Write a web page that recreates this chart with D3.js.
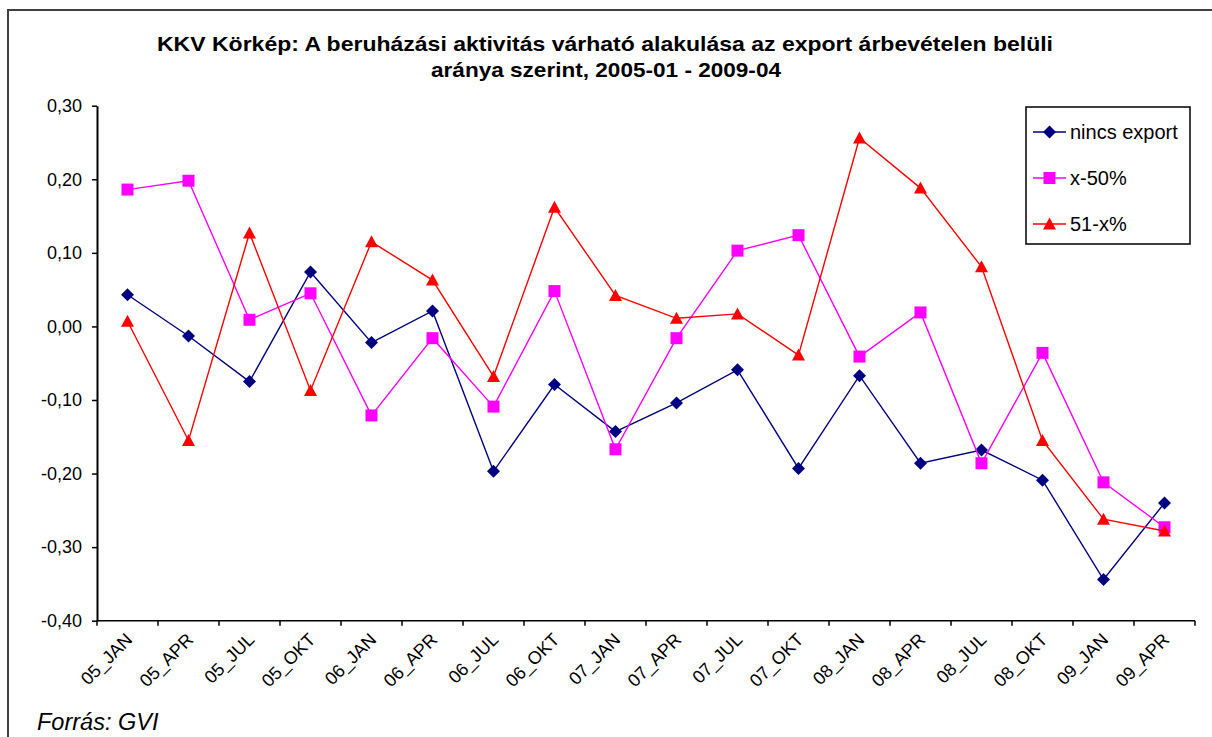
<!DOCTYPE html>
<html lang="hu">
<head>
<meta charset="utf-8">
<title>KKV Körkép</title>
<script src="https://d3js.org/d3.v7.min.js"></script>
<style>
    body { margin: 0; padding: 0; background: white; overflow: hidden; }
    svg { display: block; font-family: Arial, "Liberation Sans", sans-serif; }
</style>
</head>
<body>
<div id="chart"></div>
<script>
    // data
    const categories = ["05_JAN", "05_APR", "05_JUL", "05_OKT", "06_JAN", "06_APR", "06_JUL", "06_OKT",
        "07_JAN", "07_APR", "07_JUL", "07_OKT", "08_JAN", "08_APR", "08_JUL", "08_OKT", "09_JAN", "09_APR"];
    const ninsExport = [0.043, -0.013, -0.075, 0.074, -0.022, 0.021, -0.197, -0.079,
        -0.143, -0.104, -0.059, -0.193, -0.067, -0.186, -0.168, -0.209, -0.344, -0.240];
    const x50 = [0.186, 0.198, 0.009, 0.045, -0.121, -0.016, -0.109, 0.048,
        -0.167, -0.016, 0.103, 0.124, -0.041, 0.019, -0.186, -0.036, -0.212, -0.273];
    const x51 = [0.007, -0.155, 0.127, -0.087, 0.115, 0.063, -0.068, 0.162,
        0.042, 0.011, 0.017, -0.039, 0.256, 0.188, 0.081, -0.155, -0.262, -0.278];
    const yTicks = [-0.4, -0.3, -0.2, -0.1, 0, 0.1, 0.2, 0.3];
    const seriesNames = ["nincs export", "x-50%", "51-x%"];

    const series = [
        { name: seriesNames[0], values: ninsExport, color: "#000080", marker: "diamond" },
        { name: seriesNames[1], values: x50, color: "#FF00FF", marker: "square" },
        { name: seriesNames[2], values: x51, color: "#FF0000", marker: "triangle" }
    ];

    const w = 1212, h = 737;
    const plotLeft = 97, plotRight = 1195, plotTop = 105.7, plotBottom = 620.7;

    const svg = d3.select("#chart").append("svg")
        .attr("width", w)
        .attr("height", h);

    // outer frame
    svg.append("rect")
        .attr("x", 8).attr("y", 10)
        .attr("width", w + 20).attr("height", h + 20)
        .attr("fill", "white")
        .attr("stroke", "#404040")
        .attr("stroke-width", 2);

    // title
    svg.append("text")
        .attr("x", 605).attr("y", 51)
        .attr("text-anchor", "middle")
        .attr("font-weight", "bold")
        .attr("font-size", 21)
        .attr("textLength", 896)
        .attr("lengthAdjust", "spacingAndGlyphs")
        .text("KKV Körkép: A beruházási aktivitás várható alakulása az export árbevételen belüli");
    svg.append("text")
        .attr("x", 606).attr("y", 77)
        .attr("text-anchor", "middle")
        .attr("font-weight", "bold")
        .attr("font-size", 21)
        .attr("textLength", 350)
        .attr("lengthAdjust", "spacingAndGlyphs")
        .text("aránya szerint, 2005-01 - 2009-04");

    const x = d3.scaleBand().domain(categories).range([plotLeft, plotRight]);
    const y = d3.scaleLinear().domain([-0.4, 0.3]).range([plotBottom, plotTop]);
    const cx = c => x(c) + x.bandwidth() / 2;

    const huLocale = d3.formatLocale({ decimal: ",", thousands: " ", grouping: [3], currency: ["", " Ft"], minus: "-" });
    const fmt = huLocale.format(".2f");

    // y axis
    const yAxis = svg.append("g")
        .attr("transform", `translate(${plotLeft},0)`)
        .call(d3.axisLeft(y).tickValues(yTicks).tickFormat(fmt).tickSize(5).tickSizeOuter(0).tickPadding(10));
    yAxis.select(".domain").attr("stroke", "black").attr("stroke-width", 2);
    yAxis.selectAll(".tick line").attr("stroke", "black").attr("stroke-width", 1.5);
    yAxis.selectAll(".tick text").attr("font-size", 18).attr("font-family", "Arial, 'Liberation Sans', sans-serif").attr("fill", "black");

    // x axis: ticks on category boundaries
    const xAxis = svg.append("g");
    xAxis.append("line")
        .attr("x1", plotLeft).attr("x2", plotRight)
        .attr("y1", plotBottom).attr("y2", plotBottom)
        .attr("stroke", "black").attr("stroke-width", 1.5);
    xAxis.selectAll("line.tick")
        .data(categories.map(c => x(c)).concat([plotRight]))
        .enter().append("line")
        .attr("class", "tick")
        .attr("x1", d => d).attr("x2", d => d)
        .attr("y1", plotBottom).attr("y2", plotBottom + 5)
        .attr("stroke", "black").attr("stroke-width", 1.5);
    xAxis.selectAll("text")
        .data(categories)
        .enter().append("text")
        .attr("transform", d => `translate(${cx(d) + 6},${plotBottom + 20}) rotate(-45)`)
        .attr("text-anchor", "end")
        .attr("font-size", 18)
        .text(d => d);

    // markers
    const markerPath = (type) => {
        if (type === "diamond") return "M0,-6.5L6.5,0L0,6.5L-6.5,0Z";
        if (type === "square") return "M-6,-6H6V6H-6Z";
        return "M0,-6.5L6.5,5.5H-6.5Z";
    };

    const line = d3.line()
        .x((d, i) => cx(categories[i]))
        .y(d => y(d));

    series.forEach(s => {
        const g = svg.append("g");
        g.append("path")
            .datum(s.values)
            .attr("d", line)
            .attr("fill", "none")
            .attr("stroke", s.color)
            .attr("stroke-width", 1.4);
        g.selectAll("path.m")
            .data(s.values)
            .enter().append("path")
            .attr("class", "m")
            .attr("d", markerPath(s.marker))
            .attr("transform", (d, i) => `translate(${cx(categories[i])},${y(d)})`)
            .attr("fill", s.color);
    });

    // legend
    const legend = svg.append("g");
    legend.append("rect")
        .attr("x", 1026).attr("y", 107)
        .attr("width", 164).attr("height", 137)
        .attr("fill", "white")
        .attr("stroke", "black")
        .attr("stroke-width", 1.5);
    series.forEach((s, i) => {
        const ly = 132 + i * 46;
        legend.append("line")
            .attr("x1", 1033).attr("x2", 1066)
            .attr("y1", ly).attr("y2", ly)
            .attr("stroke", s.color).attr("stroke-width", 1.4);
        legend.append("path")
            .attr("d", markerPath(s.marker))
            .attr("transform", `translate(1049.5,${ly})`)
            .attr("fill", s.color);
        legend.append("text")
            .attr("x", 1070).attr("y", ly + 7)
            .attr("font-size", 20)
            .text(s.name);
    });

    // source
    svg.append("text")
        .attr("x", 37).attr("y", 730)
        .attr("font-size", 23.5)
        .attr("font-style", "italic")
        .text("Forrás: GVI");
</script>
</body>
</html>
